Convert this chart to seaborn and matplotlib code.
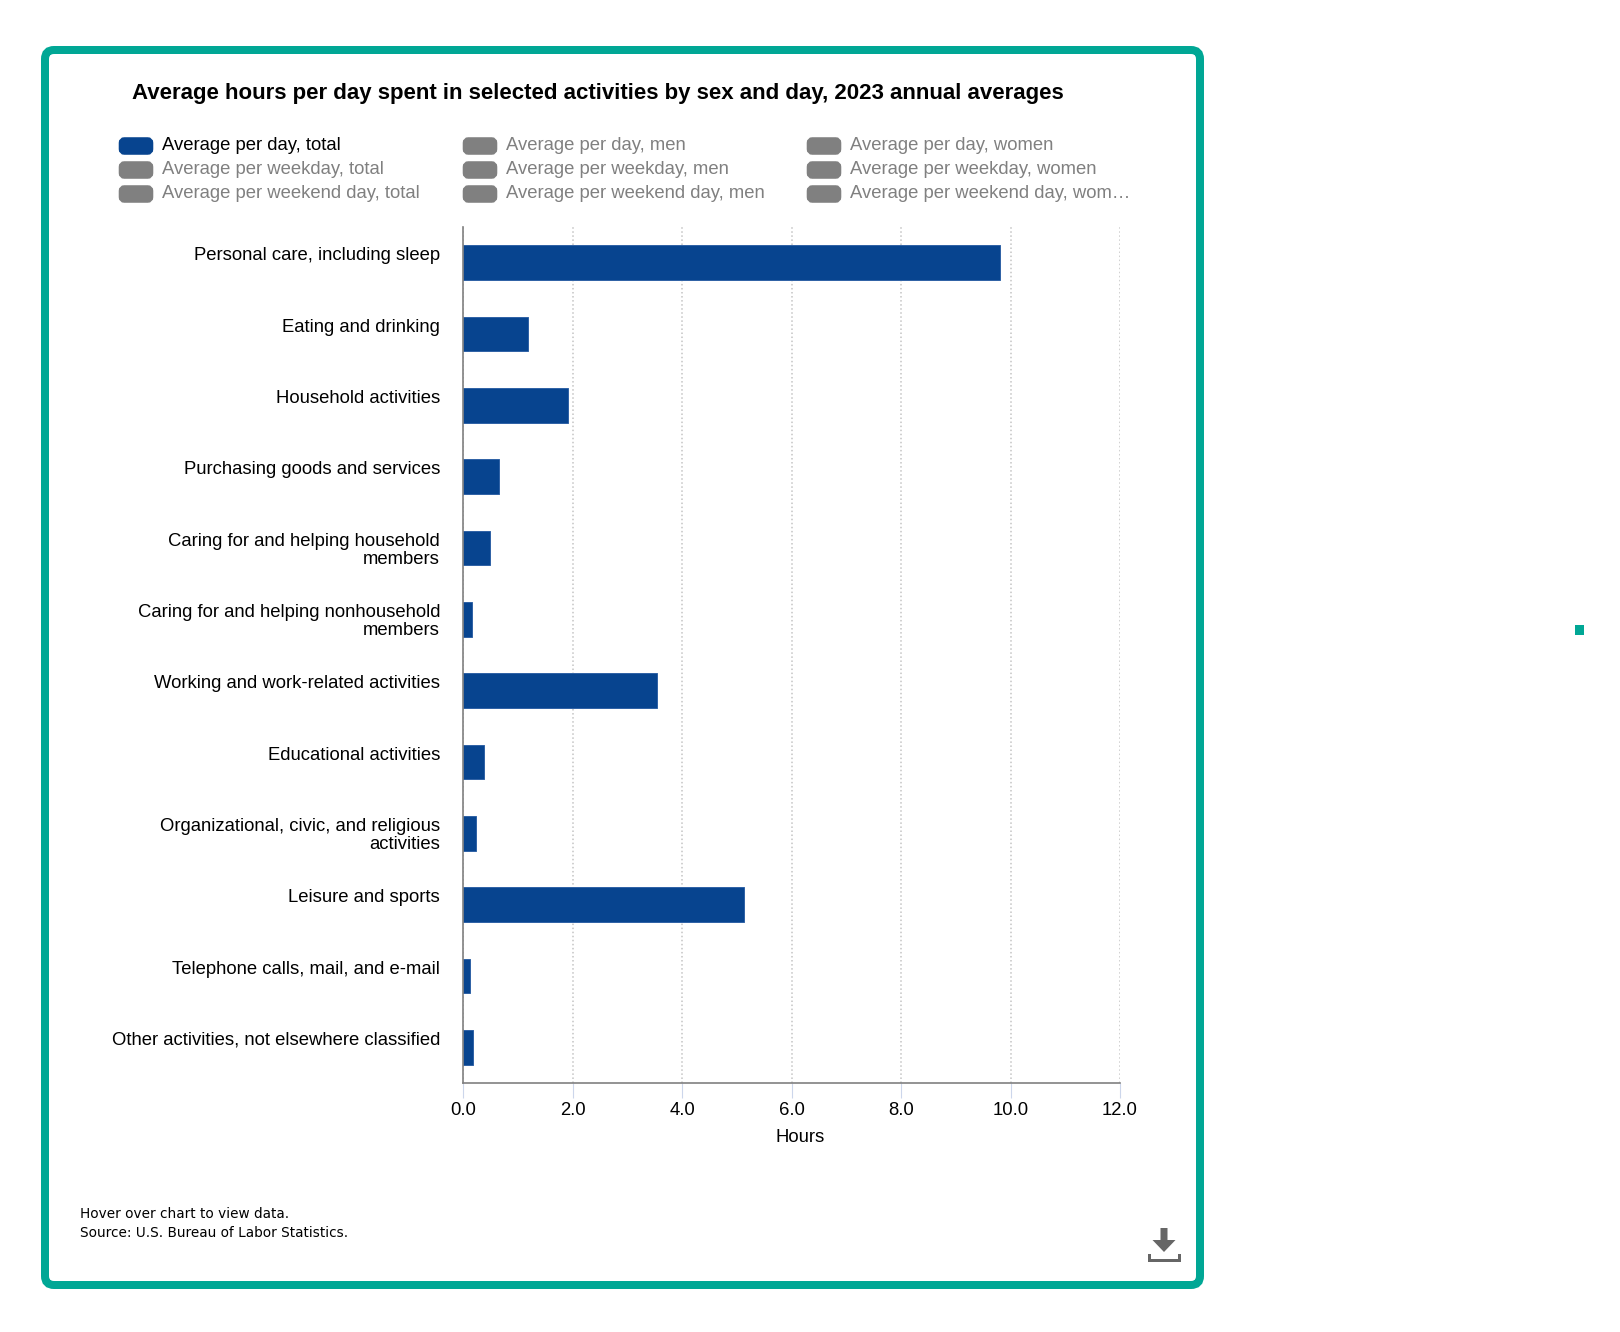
import matplotlib
matplotlib.use("Agg")
import matplotlib.pyplot as plt
import matplotlib.transforms as mtransforms
from matplotlib.patches import FancyBboxPatch, Polygon, Rectangle
import pandas as pd
import seaborn as sns

# values
activities = [
    "Personal care, including sleep",
    "Eating and drinking",
    "Household activities",
    "Purchasing goods and services",
    "Caring for and helping household\nmembers",
    "Caring for and helping nonhousehold\nmembers",
    "Working and work-related activities",
    "Educational activities",
    "Organizational, civic, and religious\nactivities",
    "Leisure and sports",
    "Telephone calls, mail, and e-mail",
    "Other activities, not elsewhere classified",
]
hours = [9.81, 1.19, 1.92, 0.66, 0.49, 0.17, 3.55, 0.38, 0.23, 5.13, 0.13, 0.19]
x_ticks = [0, 2, 4, 6, 8, 10, 12]
legend_labels = [
    ["Average per day, total", "Average per weekday, total", "Average per weekend day, total"],
    ["Average per day, men", "Average per weekday, men", "Average per weekend day, men"],
    ["Average per day, women", "Average per weekday, women", "Average per weekend day, wom…"],
]
legend_swatch_x = [118.5, 462.5, 806.5]
legend_row_y = [146, 170, 194]

BLUE = "#07448f"
GREY = "#808080"
TEAL = "#00a795"
W, H = 1620, 1332

sns.set_theme(style="white")
plt.rcParams["font.family"] = ["Liberation Sans", "DejaVu Sans"]

fig = plt.figure(figsize=(W / 100, H / 100), dpi=100, facecolor="white")

# overlay in pixel coordinates for the card, title, legend, footer
bg = fig.add_axes([0, 0, 1, 1], zorder=0)
bg.set_xlim(0, W)
bg.set_ylim(H, 0)
bg.axis("off")

bg.add_patch(FancyBboxPatch((45, 50), 1155, 1235, boxstyle="round,pad=0,rounding_size=9",
                            fc="white", ec=TEAL, lw=5.76))
bg.add_patch(Rectangle((1575, 625), 9, 10, fc=TEAL, ec="none"))

bg.text(598, 93, "Average hours per day spent in selected activities by sex and day, 2023 annual averages",
        ha="center", va="center", fontsize=16, fontweight="bold", color="black")

for c, sx in enumerate(legend_swatch_x):
    for r, sy in enumerate(legend_row_y):
        active = c == 0 and r == 0
        bg.add_patch(FancyBboxPatch((sx + 3, sy - 6), 29, 12, boxstyle="round,pad=0,rounding_size=3",
                                    mutation_aspect=1, fc=BLUE if active else GREY, ec=BLUE if active else GREY,
                                    lw=4.0))
        bg.text(sx + 43, sy, legend_labels[c][r], ha="left", va="center", fontsize=13.3,
                color="black" if active else GREY)

bg.text(80, 1214, "Hover over chart to view data.", family="DejaVu Sans", fontsize=9.8,
        ha="left", va="center", color="black")
bg.text(80, 1233, "Source: U.S. Bureau of Labor Statistics.", family="DejaVu Sans", fontsize=9.8,
        ha="left", va="center", color="black")

# download icon
bg.add_patch(Polygon([(1160.5, 1228), (1167.5, 1228), (1167.5, 1240), (1175.5, 1240),
                      (1164, 1252), (1152.5, 1240), (1160.5, 1240)], fc="#666666", ec="none"))
bg.add_patch(Polygon([(1147.5, 1254), (1150.5, 1254), (1150.5, 1259), (1177.5, 1259),
                      (1177.5, 1254), (1180.5, 1254), (1180.5, 1262), (1147.5, 1262)],
                     fc="#666666", ec="none"))

# main chart
ax_left, ax_right, ax_top, ax_bottom = 463, 1120, 227, 1083
ax = fig.add_axes([ax_left / W, 1 - ax_bottom / H, (ax_right - ax_left) / W, (ax_bottom - ax_top) / H], zorder=1)
ax.patch.set_alpha(0)

df = pd.DataFrame({"activity": activities, "hours": hours})
sns.barplot(data=df, x="hours", y="activity", orient="h", color=BLUE, saturation=1,
            width=0.49, edgecolor="#2f62a6", linewidth=0.7, ax=ax)

ax.set_xlim(0, 12)
ax.set_xticks(x_ticks)
ax.set_xticklabels([f"{t:.1f}" for t in x_ticks], fontsize=13.3, color="black")
ax.set_ylabel("")
ax.set_xlabel("Hours", fontsize=13.3, color="black", va="center")
ax.xaxis.set_label_coords((800 - ax_left) / (ax_right - ax_left), -(1138 - ax_bottom) / (ax_bottom - ax_top))

ax.set_axisbelow(True)
ax.grid(axis="x", color="#c4c4c4", linestyle=":", linewidth=1.1)
ax.grid(axis="y", visible=False)
sns.despine(ax=ax, top=True, right=True)
ax.spines["left"].set_color(GREY)
ax.spines["bottom"].set_color(GREY)
ax.spines["left"].set_linewidth(1.2)
ax.spines["bottom"].set_linewidth(1.2)

ax.tick_params(axis="x", length=10.8, width=0.8, color="#ccd6eb", pad=3, bottom=True)
ax.tick_params(axis="y", length=0, pad=16.5)

# labels hang from the first line, slightly above the bar centre
shift = mtransforms.ScaledTranslation(0, 0.155, fig.dpi_scale_trans)
for lab in ax.get_yticklabels():
    lab.set_fontsize(13.3)
    lab.set_color("black")
    lab.set_verticalalignment("top")
    lab.set_horizontalalignment("right")
    lab.set_multialignment("right")
    lab.set_linespacing(1.1)
    lab.set_transform(lab.get_transform() + shift)

fig.savefig("out.png", dpi=100, facecolor="white")
